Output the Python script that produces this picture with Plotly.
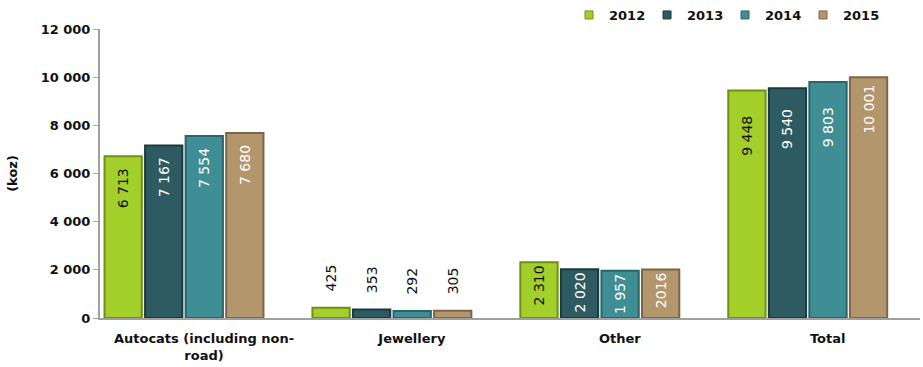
import plotly.graph_objects as go

categories = ["Autocats (including non-<br>road)", "Jewellery", "Other", "Total"]
years = ["2012", "2013", "2014", "2015"]
values_2012 = [6713, 425, 2310, 9448]
values_2013 = [7167, 353, 2020, 9540]
values_2014 = [7554, 292, 1957, 9803]
values_2015 = [7680, 305, 2016, 10001]
labels_2012 = ["6 713", "425", "2 310", "9 448"]
labels_2013 = ["7 167", "353", "2 020", "9 540"]
labels_2014 = ["7 554", "292", "1 957", "9 803"]
labels_2015 = ["7 680", "305", "2016", "10 001"]
y_ticks = [0, 2000, 4000, 6000, 8000, 10000, 12000]
y_tick_text = ["0", "2 000", "4 000", "6 000", "8 000", "10 000", "12 000"]

# (name, values, labels, fill, edge, label colour, label padding per category)
series = [
    (years[0], values_2012, labels_2012, "#a3cf2a", "#6f8f15", "#111111", [2, 3, 0, 5]),
    (years[1], values_2013, labels_2013, "#2e5b61", "#1b3a3e", "#ffffff", [2, 3, 0, 4]),
    (years[2], values_2014, labels_2014, "#3f8e96", "#2a6469", "#ffffff", [2, 3, 0, 5]),
    (years[3], values_2015, labels_2015, "#b4966c", "#7d6645", "#ffffff", [2, 3, 0, 1]),
]

NB = "\u00a0"
fig = go.Figure()
for name, vals, labs, color, edge, tcol, pads in series:
    texts, positions, colors = [], [], []
    for v, lab, p in zip(vals, labs, pads):
        if v < 1000:
            texts.append(NB * p + lab)
            positions.append("outside")
            colors.append("#111111")
        else:
            texts.append(lab + NB * p)
            positions.append("inside")
            colors.append(tcol)
    fig.add_trace(go.Bar(
        name=name, x=categories, y=vals, showlegend=False,
        marker=dict(color=color, line=dict(color=edge, width=2)),
        text=texts, textposition=positions, textangle=-90,
        insidetextanchor="end", constraintext="none",
        textfont=dict(family="DejaVu Sans", size=14, color=colors),
        outsidetextfont=dict(family="DejaVu Sans", size=14, color="#111111"),
        cliponaxis=False,
    ))

# small square swatches for the legend
for name, vals, labs, color, edge, tcol, pads in series:
    fig.add_trace(go.Scatter(
        x=[None], y=[None], mode="markers", name=name,
        marker=dict(symbol="square", size=8, color=color, line=dict(color=edge, width=1)),
    ))

fig.update_layout(
    width=923, height=367,
    margin=dict(l=100, r=3, t=29, b=49, autoexpand=False),
    paper_bgcolor="white", plot_bgcolor="white",
    barmode="group", bargap=0.22, bargroupgap=0.08,
    font=dict(family="DejaVu Sans", size=13, color="#111111"),
    legend=dict(orientation="h", xref="container", yref="container",
                x=0.6165, xanchor="left", y=1.0, yanchor="top",
                font=dict(family="DejaVu Sans", size=13, color="#111111", weight="bold"),
                itemwidth=30, entrywidth=33, entrywidthmode="pixels",
                traceorder="normal", bgcolor="rgba(0,0,0,0)"),
    showlegend=True,
)
fig.update_xaxes(
    range=[-0.404, 3.54], showline=True, linecolor="#a0a0a0", linewidth=2,
    ticks="", showgrid=False, ticklabelshift=20, ticklabelstandoff=7,
    tickfont=dict(family="DejaVu Sans", size=13, color="#111111", weight="bold"),
)
fig.update_yaxes(
    range=[0, 12000], tickvals=y_ticks, ticktext=y_tick_text,
    showline=True, linecolor="#a0a0a0", linewidth=2, ticks="outside", ticklen=5,
    tickcolor="#a0a0a0", showgrid=False, zeroline=False,
    tickfont=dict(family="DejaVu Sans", size=13, color="#111111", weight="bold"),
    title=dict(text="(koz)", font=dict(family="DejaVu Sans", size=13, weight="bold"), standoff=20),
)

fig.write_html("out.html")
